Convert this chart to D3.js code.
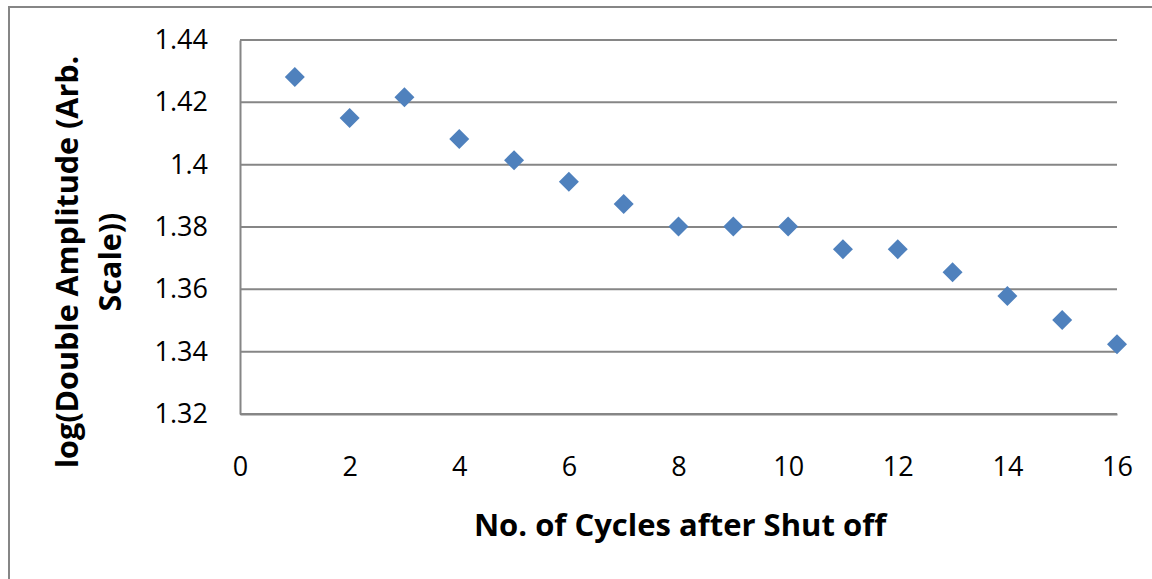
<!DOCTYPE html>
<html>
<head>
<meta charset="utf-8">
<script src="https://cdn.jsdelivr.net/npm/d3@7"></script>
<style>
  html, body { margin: 0; padding: 0; background: #fff; }
  svg { display: block; }
</style>
</head>
<body>
<svg id="chart" width="1152" height="579"></svg>
<script>
// Cycle number after shut off
const cycles = [1, 2, 3, 4, 5, 6, 7, 8, 9, 10, 11, 12, 13, 14, 15, 16];
// log10 of the double amplitude (arbitrary scale)
const logAmplitude = [1.4281, 1.4150, 1.4216, 1.4082, 1.4014, 1.3945, 1.3874, 1.3802,
                      1.3802, 1.3802, 1.3729, 1.3729, 1.3655, 1.3579, 1.3502, 1.3424];
const xTicks = [0, 2, 4, 6, 8, 10, 12, 14, 16];
const yTicks = [1.32, 1.34, 1.36, 1.38, 1.40, 1.42, 1.44];
const yTickLabels = ["1.32", "1.34", "1.36", "1.38", "1.4", "1.42", "1.44"];

const svg = d3.select("#chart");
const font = "'Open Sans', 'Liberation Sans', sans-serif";
const grey = "#868686";

// outer chart frame
svg.append("rect")
  .attr("x", 9).attr("y", 7)
  .attr("width", 1160).attr("height", 600)
  .attr("fill", "none").attr("stroke", grey).attr("stroke-width", 2);

const plot = { left: 240, right: 1117, top: 40, bottom: 414 };

const x = d3.scaleLinear().domain([0, 16]).range([plot.left, plot.right]);
const y = d3.scaleLinear().domain([1.32, 1.44]).range([plot.bottom, plot.top]);

// horizontal gridlines
svg.append("g")
  .selectAll("line")
  .data(yTicks)
  .join("line")
  .attr("x1", plot.left).attr("x2", plot.right)
  .attr("y1", d => y(d)).attr("y2", d => y(d))
  .attr("stroke", grey).attr("stroke-width", 2);

// y axis
const yAxis = d3.axisLeft(y)
  .tickValues(yTicks)
  .tickSize(0)
  .tickPadding(32)
  .tickFormat((d, i) => yTickLabels[i]);
const gy = svg.append("g").attr("transform", `translate(${plot.left},0)`).call(yAxis);
gy.select(".domain").attr("stroke", grey).attr("stroke-width", 2);
gy.selectAll("text").attr("font-family", font).attr("font-size", 27).attr("fill", "#000");

// x axis
const xAxis = d3.axisBottom(x)
  .tickValues(xTicks)
  .tickSize(0)
  .tickPadding(43)
  .tickFormat(d3.format("d"));
const gx = svg.append("g").attr("transform", `translate(0,${plot.bottom})`).call(xAxis);
gx.select(".domain").attr("stroke", grey).attr("stroke-width", 2);
gx.selectAll("text").attr("font-family", font).attr("font-size", 27).attr("fill", "#000");

// diamond markers
const diamond = d3.symbol().type(d3.symbolSquare).size(200);
svg.append("g")
  .selectAll("path")
  .data(cycles.map((c, i) => ({ c, v: logAmplitude[i] })))
  .join("path")
  .attr("d", diamond)
  .attr("transform", d => `translate(${x(d.c)},${y(d.v)}) rotate(45)`)
  .attr("fill", "#4F81BD");

// axis titles
svg.append("text")
  .attr("x", 680)
  .attr("y", 536)
  .attr("text-anchor", "middle")
  .attr("font-family", font).attr("font-weight", "bold").attr("font-size", 31)
  .attr("fill", "#000")
  .text("No. of Cycles after Shut off");

const yTitle = svg.append("text")
  .attr("transform", "translate(0,262) rotate(-90)")
  .attr("text-anchor", "middle")
  .attr("font-family", font).attr("font-weight", "bold").attr("font-size", 30.5)
  .attr("fill", "#000");
yTitle.append("tspan").attr("x", 0).attr("y", 78).text("log(Double Amplitude (Arb.");
yTitle.append("tspan").attr("x", 0).attr("y", 121).text("Scale))");
</script>
</body>
</html>
